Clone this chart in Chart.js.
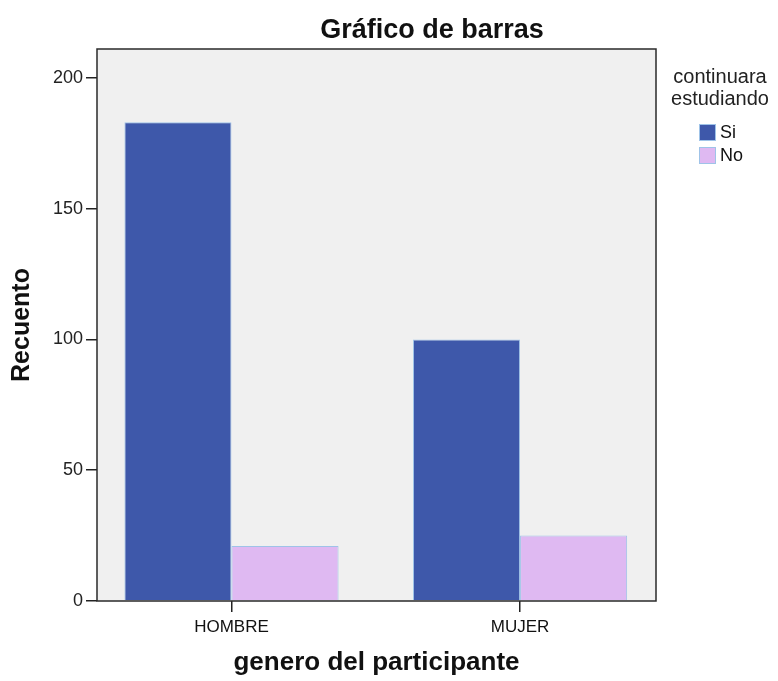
<!DOCTYPE html>
<html>
<head>
<meta charset="utf-8">
<script src="https://cdn.jsdelivr.net/npm/chart.js@4.4.1/dist/chart.umd.min.js"></script>
<style>
  html, body { margin: 0; padding: 0; background: #fff; }
  canvas { display: block; }
</style>
</head>
<body>
<canvas id="grafico" width="778" height="681"></canvas>
<script>
// données
const categorias = ["HOMBRE", "MUJER"];
const valoresSi = [183, 100];
const valoresNo = [21, 25];
const ticksY = [0, 50, 100, 150, 200];
const etiquetasSerie = ["Si", "No"];
const tituloLeyenda = ["continuara", "estudiando"];

const fuente = "'Liberation Sans', Arial, sans-serif";

// fond gris + cadre du graphique
const cadre = {
    id: "cadre",
    beforeDraw(chart) {
        const { ctx, chartArea: a } = chart;
        ctx.save();
        ctx.fillStyle = "#f0f0f0";
        ctx.fillRect(a.left, a.top, a.right - a.left, a.bottom - a.top);
        ctx.restore();
    },
    afterDatasetsDraw(chart) {
        const { ctx, chartArea: a } = chart;
        ctx.save();
        ctx.strokeStyle = "#2a2a2a";
        ctx.lineWidth = 1.5;
        ctx.strokeRect(a.left, a.top, a.right - a.left, a.bottom - a.top);
        ctx.restore();
    }
};

// titre et légende dessinés à la main (position façon SPSS)
const titreEtLegende = {
    id: "titreEtLegende",
    afterDraw(chart) {
        const ctx = chart.ctx;
        ctx.save();
        ctx.fillStyle = "#111";
        ctx.textAlign = "center";
        ctx.textBaseline = "alphabetic";
        ctx.font = "bold 27px " + fuente;
        ctx.fillText("Gráfico de barras", 432, 38);

        ctx.font = "20px " + fuente;
        ctx.fillStyle = "#222";
        tituloLeyenda.forEach((t, i) => ctx.fillText(t, 720, 83 + i * 22));

        ctx.textAlign = "left";
        ctx.textBaseline = "middle";
        ctx.font = "18px " + fuente;
        chart.data.datasets.forEach((ds, i) => {
            const y = 124 + i * 23;
            ctx.fillStyle = ds.backgroundColor;
            ctx.fillRect(699, y, 17, 17);
            ctx.strokeStyle = ds.borderColor;
            ctx.lineWidth = 1;
            ctx.strokeRect(699.5, y + 0.5, 16, 16);
            ctx.fillStyle = "#111";
            ctx.fillText(ds.label, 720, y + 9);
        });
        ctx.restore();
    }
};

const ctx = document.getElementById("grafico").getContext("2d");

new Chart(ctx, {
    type: "bar",
    data: {
        datasets: [{
            label: etiquetasSerie[0],
            data: valoresSi.map((v, i) => ({ x: i, y: v })),
            backgroundColor: "#3e58aa",
            borderColor: "#9fc3e8",
            borderWidth: 1,
            categoryPercentage: 0.742,
            barPercentage: 1
        }, {
            label: etiquetasSerie[1],
            data: valoresNo.map((v, i) => ({ x: i, y: v })),
            backgroundColor: "#dfb9f2",
            borderColor: "#9fc3e8",
            borderWidth: 1,
            categoryPercentage: 0.742,
            barPercentage: 1
        }]
    },
    options: {
        responsive: false,
        animation: false,
        layout: { padding: { top: 49, right: 122, left: 0, bottom: 0 } },
        plugins: {
            legend: { display: false },
            title: { display: false },
            tooltip: { enabled: false }
        },
        scales: {
            x: {
                type: "linear",
                offset: false,
                min: -0.466,
                max: 1.471,
                afterBuildTicks: s => { s.ticks = categorias.map((c, i) => ({ value: i })); },
                afterFit: s => { s.height = 80; },
                border: { display: false },
                grid: {
                    offset: false,
                    drawOnChartArea: false,
                    drawTicks: true,
                    tickLength: 11,
                    lineWidth: 1.5,
                    color: "#222"
                },
                ticks: {
                    callback: v => categorias[v],
                    color: "#111",
                    font: { family: fuente, size: 17 },
                    padding: 5,
                    maxRotation: 0
                },
                title: {
                    display: true,
                    text: "genero del participante",
                    color: "#111",
                    font: { family: fuente, size: 26, weight: "bold" },
                    padding: { top: 0, bottom: 3 }
                }
            },
            y: {
                min: 0,
                max: 211,
                afterBuildTicks: s => { s.ticks = ticksY.map(v => ({ value: v })); },
                afterFit: s => { s.width = 97; },
                border: { display: false },
                grid: {
                    drawOnChartArea: false,
                    drawTicks: true,
                    tickLength: 11,
                    lineWidth: 1.5,
                    color: "#222"
                },
                ticks: {
                    color: "#222",
                    font: { family: fuente, size: 18 },
                    padding: 3
                },
                title: {
                    display: true,
                    text: "Recuento",
                    color: "#111",
                    font: { family: fuente, size: 25, weight: "bold" },
                    padding: { top: 7, bottom: 0 }
                }
            }
        }
    },
    plugins: [cadre, titreEtLegende]
});
</script>
</body>
</html>
